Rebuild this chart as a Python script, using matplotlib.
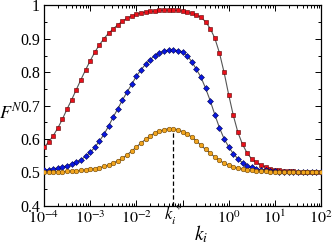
import numpy as np
import matplotlib
matplotlib.use("Agg")
from matplotlib import pyplot as plt
from matplotlib.ticker import LogLocator, MultipleLocator, NullFormatter

plt.rcParams['font.family'] = ['Liberation Serif', 'DejaVu Serif']
plt.rcParams['mathtext.fontset'] = 'stix'

# valores de k_i (10 puntos por decada, de 1e-4 a 1e2)
exponentes = [-4 + i / 10 for i in range(61)]
k_i = [10 ** e for e in exponentes]
k_estrella = 10 ** -1.2

# etiquetas del eje x (10^-1 no aparece, queda k_i^* en su lugar)
ticks_x = [-4, -3, -2, -1, 0, 1, 2]
etiquetas_x = [r'$10^{-4}$', r'$10^{-3}$', r'$10^{-2}$', '', r'$10^{0}$', r'$10^{1}$', r'$10^{2}$']
ticks_y = [0.4, 0.5, 0.6, 0.7, 0.8, 0.9, 1.0]
etiquetas_y = ['0.4', '0.5', '0.6', '0.7', '0.8', '0.9', '1']

# F^N
rojo = [0.575, 0.591, 0.610, 0.633, 0.660, 0.690, 0.718, 0.748, 0.778, 0.807,
        0.834, 0.860, 0.882, 0.901, 0.917, 0.930, 0.942, 0.953, 0.962, 0.968,
        0.973, 0.977, 0.980, 0.982, 0.983, 0.985, 0.986, 0.986, 0.986, 0.985,
        0.983, 0.980, 0.976, 0.971, 0.965, 0.951, 0.931, 0.902, 0.858, 0.800,
        0.733, 0.671, 0.620, 0.584, 0.558, 0.540, 0.530, 0.522, 0.516, 0.511,
        0.508, 0.506, 0.505, 0.504, 0.503, 0.502, 0.502, 0.501, 0.501, 0.501,
        0.501]
azul = [0.506, 0.508, 0.511, 0.513, 0.516, 0.520, 0.525, 0.530, 0.538, 0.548,
        0.560, 0.575, 0.594, 0.614, 0.639, 0.666, 0.691, 0.717, 0.741, 0.764,
        0.788, 0.807, 0.824, 0.838, 0.850, 0.858, 0.864, 0.866, 0.866, 0.865,
        0.861, 0.850, 0.832, 0.809, 0.785, 0.752, 0.715, 0.673, 0.634, 0.601,
        0.577, 0.556, 0.541, 0.529, 0.520, 0.515, 0.511, 0.508, 0.506, 0.504,
        0.503, 0.502, 0.501, 0.501, 0.501, 0.501, 0.501, 0.501, 0.501, 0.501,
        0.501]
naranja = [0.500, 0.501, 0.501, 0.502, 0.502, 0.503, 0.504, 0.505, 0.506, 0.507,
           0.509, 0.511, 0.514, 0.518, 0.522, 0.528, 0.535, 0.542, 0.553, 0.564,
           0.576, 0.588, 0.599, 0.610, 0.618, 0.624, 0.628, 0.631, 0.631, 0.628,
           0.622, 0.615, 0.606, 0.595, 0.581, 0.569, 0.558, 0.546, 0.536, 0.528,
           0.522, 0.517, 0.513, 0.510, 0.507, 0.506, 0.505, 0.504, 0.503, 0.502,
           0.501, 0.501, 0.501, 0.501, 0.501, 0.501, 0.501, 0.501, 0.501, 0.501,
           0.501]
pico_naranja = max(naranja)

fig = plt.figure(figsize=(3.32, 2.48), dpi=100)
ax = fig.add_axes([0.1325, 0.170, 0.8344, 0.808])

# lineas finas y luego los marcadores
for serie in (rojo, azul, naranja):
    ax.plot(k_i, serie, color='#555555', lw=0.8, zorder=2)
ax.plot(k_i, rojo, ls='none', marker='s', ms=3.0, mfc='#e8101a', mec='#5a0000', mew=0.4, zorder=3)
ax.plot(k_i, azul, ls='none', marker='D', ms=3.0, mfc='#0a18e0', mec='#00004a', mew=0.4, zorder=4)
ax.plot(k_i, naranja, ls='none', marker='o', ms=3.3, mfc='#f2a51e', mec='#6a4000', mew=0.4, zorder=5)

# linea discontinua en k_i^*
ax.plot([k_estrella, k_estrella], [0.4, pico_naranja], color='black', ls='--', lw=0.9, dashes=(3.5, 2), zorder=1)

ax.set_xscale('log')
ax.set_xlim(1e-4, 1e2)
ax.set_ylim(0.4, 1.0)

ax.xaxis.set_minor_locator(LogLocator(base=10, subs=np.arange(2, 10), numticks=20))
ax.xaxis.set_minor_formatter(NullFormatter())
ax.set_xticks([10.0 ** e for e in ticks_x])
ax.set_xticklabels(etiquetas_x)

ax.yaxis.set_minor_locator(MultipleLocator(0.05))
ax.set_yticks(ticks_y)
ax.set_yticklabels(etiquetas_y)

ax.tick_params(which='both', direction='in', top=True, right=True, labelsize=11.5, width=0.7)
ax.tick_params(which='major', length=4, pad=3)
ax.tick_params(which='minor', length=2)
for s in ax.spines.values():
    s.set_linewidth(0.9)

# etiquetas
ax.text(k_estrella, -0.068, r'$k_i^*$', transform=ax.get_xaxis_transform(),
        ha='center', va='baseline', fontsize=12)
fig.text(0.605, 0.030, r'$k_i$', ha='center', va='baseline', fontsize=14)
fig.text(0.033, 0.545, r'$F^N$', ha='center', va='center', fontsize=13)

fig.savefig('out.png', dpi=100)
